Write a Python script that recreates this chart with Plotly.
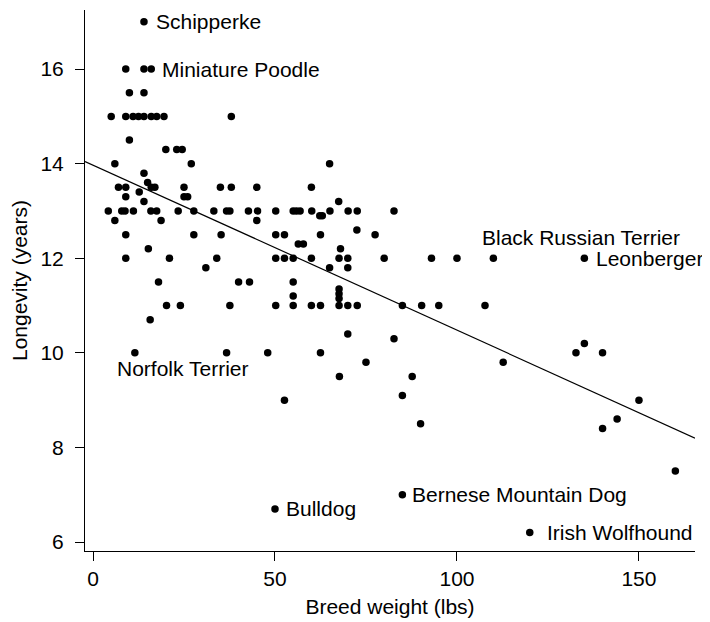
import plotly.graph_objects as go

# ---- data ----
weight = [
    14,
    9, 14, 16,
    10, 14,
    5, 9, 11, 12.5, 14, 16, 17.5, 19.5, 38,
    10,
    20, 23, 24.5,
    6, 27, 65,
    14,
    15,
    7, 9, 16, 17, 25, 35, 38, 45, 60,
    12.7,
    9, 25, 26,
    14, 67.5,
    4.2, 7.9, 8.8, 11.1, 15.9, 17.5, 23.4, 27.7, 33.2, 36.7, 37.6, 42.7, 45.2, 50.2,
    55.0, 55.9, 56.9, 60.1, 65.1, 70.1, 72.6, 82.7,
    62.3, 63.0,
    6, 18.7, 45,
    72.5,
    9, 27.7, 35.2, 50.2, 52.6, 62.5, 77.5,
    56.4, 57.8,
    15.2, 68,
    9, 21, 34, 50.2, 52.6, 55, 60, 67.6, 70, 80, 93, 100, 110, 135,
    31, 65, 70,
    18, 40, 43, 55,
    67.6, 67.6, 55, 67.6,
    20.2, 24, 37.6, 50.2, 55, 60, 62.5, 67.6, 70, 72.6, 85, 90.3, 95, 107.7,
    15.7,
    70,
    82.7,
    135,
    11.5, 36.7, 48, 62.5, 132.7, 140,
    75, 112.7,
    67.7, 87.7,
    85,
    52.6, 150,
    144,
    90,
    140,
    160,
    85,
    50,
    120,
]
longevity = [
    17,
    16, 16, 16,
    15.5, 15.5,
    15, 15, 15, 15, 15, 15, 15, 15, 15,
    14.5,
    14.3, 14.3, 14.3,
    14, 14, 14,
    13.8,
    13.6,
    13.5, 13.5, 13.5, 13.5, 13.5, 13.5, 13.5, 13.5, 13.5,
    13.4,
    13.3, 13.3, 13.3,
    13.2, 13.2,
    13, 13, 13, 13, 13, 13, 13, 13, 13, 13, 13, 13, 13, 13,
    13, 13, 13, 13, 13, 13, 13, 13,
    12.9, 12.9,
    12.8, 12.8, 12.8,
    12.6,
    12.5, 12.5, 12.5, 12.5, 12.5, 12.5, 12.5,
    12.3, 12.3,
    12.2, 12.2,
    12, 12, 12, 12, 12, 12, 12, 12, 12, 12, 12, 12, 12, 12,
    11.8, 11.8, 11.8,
    11.5, 11.5, 11.5, 11.5,
    11.35, 11.25, 11.2, 11.15,
    11, 11, 11, 11, 11, 11, 11, 11, 11, 11, 11, 11, 11, 11,
    10.7,
    10.4,
    10.3,
    10.2,
    10, 10, 10, 10, 10, 10,
    9.8, 9.8,
    9.5, 9.5,
    9.1,
    9, 9,
    8.6,
    8.5,
    8.4,
    7.5,
    7,
    6.7,
    6.2,
]

label_names = ["Schipperke", "Miniature Poodle", "Black Russian Terrier", "Leonberger",
               "Norfolk Terrier", "Bulldog", "Bernese Mountain Dog", "Irish Wolfhound"]
label_weight = [14, 16, 110, 135, 11.5, 50, 85, 120]
label_longevity = [17, 16, 12, 12, 10, 6.7, 7, 6.2]

fit_intercept = 13.97
fit_slope = -0.0349

x_ticks = [0, 50, 100, 150]
y_ticks = [6, 8, 10, 12, 14, 16]

# ---- styles ----
FONT = "Liberation Sans, Arial, Helvetica, sans-serif"
FS = 21
x_range = [-2.2, 165.4]
y_range = [5.81, 17.25]
# pixel offsets of each label relative to its point (dx right, dy up)
label_offsets = [(10, 0), (9, 0), (-13.5, 20.5), (9.5, 0), (-20, -16), (9, 0), (8, 0), (15.5, 0)]

fig = go.Figure()
fig.add_trace(go.Scatter(
    x=[x_range[0], x_range[1]],
    y=[fit_intercept + fit_slope * x_range[0], fit_intercept + fit_slope * x_range[1]],
    mode="lines", line=dict(color="black", width=1.2), hoverinfo="skip", showlegend=False,
))
fig.add_trace(go.Scatter(
    x=weight, y=longevity, mode="markers",
    marker=dict(color="black", size=7.5, line=dict(width=0)), showlegend=False,
))

for name, xw, yl, (dx, dy) in zip(label_names, label_weight, label_longevity, label_offsets):
    fig.add_annotation(x=xw, y=yl, text=name, showarrow=False, xanchor="left", yanchor="middle",
                       xshift=dx, yshift=dy, font=dict(family=FONT, size=FS, color="black"))

axis_common = dict(showline=True, linecolor="black", linewidth=1, ticks="outside", ticklen=9,
                   tickcolor="black", tickwidth=1, showgrid=False, zeroline=False,
                   tickfont=dict(family=FONT, size=FS, color="black"))
# the page body keeps the browser's default 8px margin, so the figure is
# sized 8px smaller and its margins shifted to land where the reference is
fig.update_layout(
    width=702, height=614,
    paper_bgcolor="white", plot_bgcolor="white",
    margin=dict(l=77, r=15, t=2, b=71),
    xaxis=dict(range=x_range, tickvals=x_ticks, ticktext=[str(v) for v in x_ticks],
               title=dict(text="Breed weight (lbs)", font=dict(family=FONT, size=FS, color="black"),
                          standoff=10), automargin=False, **axis_common),
    yaxis=dict(range=y_range, tickvals=y_ticks, ticktext=[str(v) for v in y_ticks],
               ticklabelstandoff=7,
               title=dict(text="Longevity (years)", font=dict(family=FONT, size=FS, color="black"),
                          standoff=13), automargin=False, **axis_common),
)

fig.write_html("out.html")
